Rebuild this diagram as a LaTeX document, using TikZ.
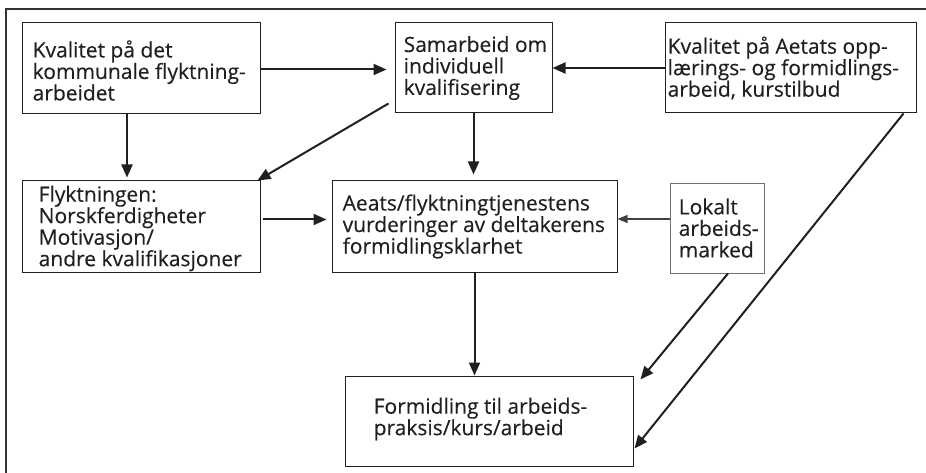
\documentclass[tikz,border=0pt]{standalone}
\usepackage{fontspec}
\setmainfont{Open Sans}[FakeBold=0.3]
\usetikzlibrary{arrows.meta}
\definecolor{ink}{HTML}{231F20}
\definecolor{framegray}{HTML}{333333}
\definecolor{softgray}{HTML}{707070}
\begin{document}
\begin{tikzpicture}[x=1pt,y=-1pt,
  box/.style={draw=ink, line width=1pt, rectangle, inner sep=0pt},
  softbox/.style={draw=softgray, line width=0.9pt, rectangle, inner sep=0pt},
  txt/.style={font=\fontsize{21}{21.5}\selectfont, text=ink, align=left, inner sep=0pt, anchor=west},
  arr/.style={draw=ink, line width=2pt, -{Triangle[length=13pt,width=11pt]}},
  thinarr/.style={draw=ink!85, line width=1.2pt, -{Triangle[length=10pt,width=8pt]}},
]
\useasboundingbox (0,0) rectangle (926,473);

% open frame: top and left edges only
\draw[framegray, line width=2pt] (926,9) -- (6,9) -- (6,473);

% boxes
\node[box, minimum width=238pt, minimum height=91pt] (b1) at (141,68.5) {};
\node[box, minimum width=157pt, minimum height=90pt] (b2) at (473.5,68) {};
\node[box, minimum width=251pt, minimum height=90pt] (b3) at (790.5,68) {};
\node[box, minimum width=238pt, minimum height=91pt] (b4) at (141,226.5) {};
\node[box, minimum width=285pt, minimum height=91pt] (b5) at (474.5,226.5) {};
\node[softbox, minimum width=94pt, minimum height=90pt] (b6) at (717,228) {};
\node[box, minimum width=288pt, minimum height=90pt] (b7) at (489,421) {};

% box texts
\node[txt] (t1) at ([xshift=11pt,yshift=-2pt]b1.west) {Kvalitet på det\\kommunale flyktning-\\arbeidet};
\node[txt] (t2) at ([xshift=9pt]b2.west) {Samarbeid om\\individuell\\kvalifisering};
\node[txt] (t3) at ([xshift=3pt]b3.west) {Kvalitet på Aetats opp-\\lærings- og formidlings-\\arbeid, kurstilbud};
\node[txt] (t4) at ([xshift=17pt,yshift=-2pt]b4.west) {Flyktningen:\\Norskferdigheter\\Motivasjon/\\andre kvalifikasjoner};
\node[txt] (t5) at ([xshift=11pt]b5.west) {Aeats/flyktningtjenestens\\vurderinger av deltakerens\\formidlingsklarhet};
\node[txt] (t6) at ([xshift=9pt]b6.west) {Lokalt\\arbeids-\\marked};
\node[txt] (t7) at ([xshift=29pt,yshift=2pt]b7.west) {Formidling til arbeids-\\praksis/kurs/arbeid};

% free ends of the slanted connectors
\coordinate (c2a) at ([shift={(-6pt,10pt)}]b2.south west);
\coordinate (c4a) at ([xshift=-3pt]b4.north east);
\coordinate (c6a) at ([xshift=11pt]b6.south);
\coordinate (c7a) at ([shift={(7pt,-4pt)}]b7.north east);
\coordinate (c3a) at ([xshift=-13pt]b3.south east);
\coordinate (c7b) at ([shift={(1pt,18pt)}]b7.south east);

% connectors
\draw[arr, shorten >=8pt] ([yshift=-1pt]b1.east) -- ([yshift=-1pt]b1.east -| b2.west);
\draw[arr] (b3.west) -- (b2.east);
\draw[arr, shorten >=3pt] ([xshift=-14pt]b1.south) -- ([xshift=-14pt]b4.north);
\draw[arr] (c2a) -- (c4a);
\draw[arr, shorten >=6pt] (b2.south) -- (b2.south |- b5.north);
\draw[arr, shorten >=7pt] ([shift={(2pt,7pt)}]b4.east) -- ([shift={(2pt,7pt)}]b4.east -| b5.west);
\draw[thinarr] ([yshift=9pt]b6.west) -- ([yshift=9pt]b6.west -| b5.east);
\draw[arr] (b5.south) -- (b5.south |- b7.north);
\draw[arr] (c6a) -- (c7a);
\draw[arr] (c3a) -- (c7b);
\end{tikzpicture}
\end{document}
